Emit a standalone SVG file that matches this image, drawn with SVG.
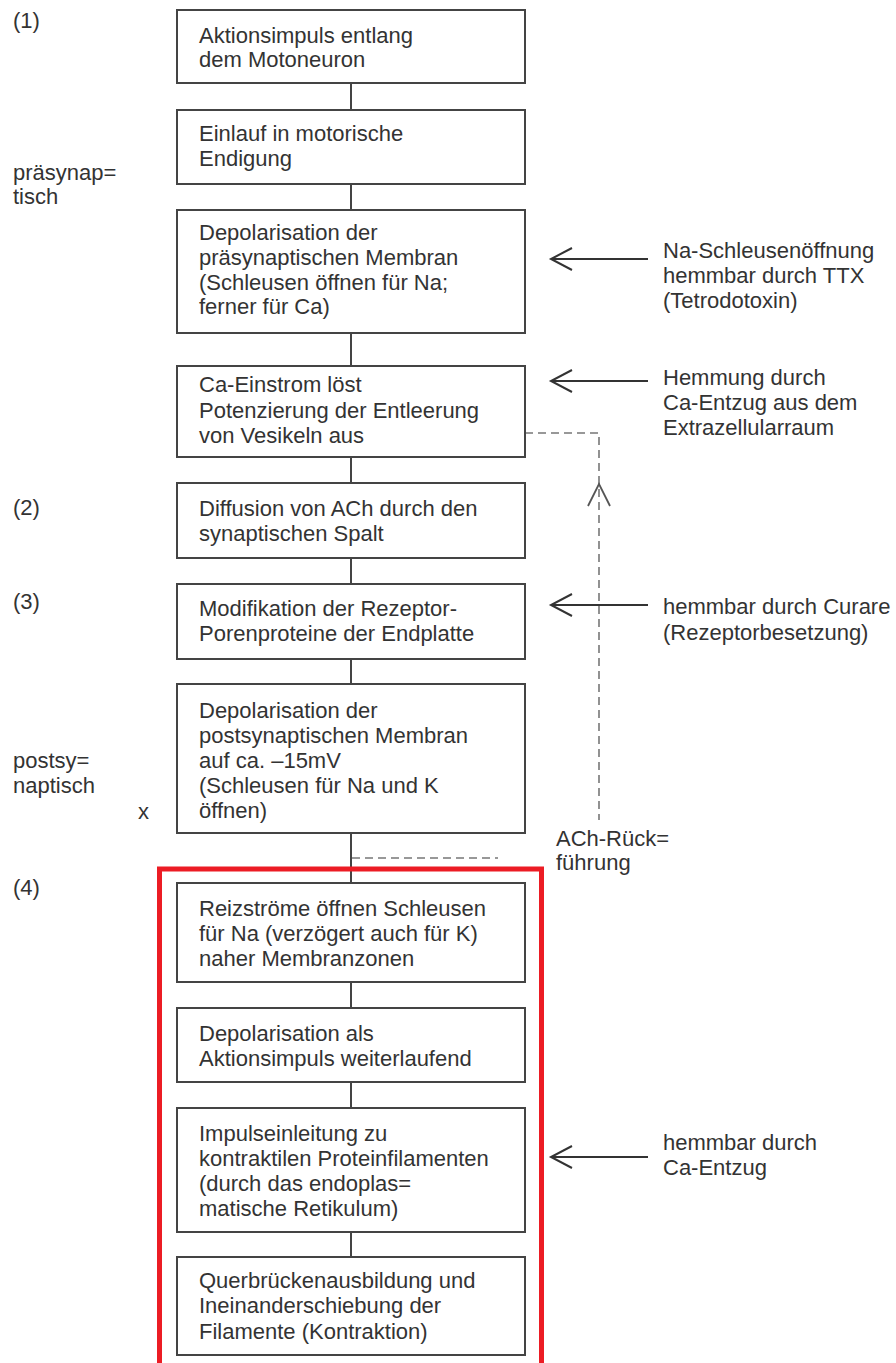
<svg xmlns="http://www.w3.org/2000/svg" width="896" height="1363" viewBox="0 0 896 1363">
<style>
text{font-family:"Liberation Sans",Arial,sans-serif;font-size:22px;fill:#333}
.box{fill:#fff;stroke:#444;stroke-width:2}
.con{stroke:#444;stroke-width:2;fill:none}
.arr{stroke:#333;stroke-width:2;fill:none}
.dash{stroke:#777;stroke-width:1.6;fill:none;stroke-dasharray:8 5}
</style>
<rect width="896" height="1363" fill="#fff"/>
<g id="connectors">
<line class="con" x1="351" y1="83" x2="351" y2="110"/>
<line class="con" x1="351" y1="184" x2="351" y2="210"/>
<line class="con" x1="351" y1="333" x2="351" y2="366"/>
<line class="con" x1="351" y1="457" x2="351" y2="483"/>
<line class="con" x1="351" y1="558" x2="351" y2="584"/>
<line class="con" x1="351" y1="659" x2="351" y2="684"/>
<line class="con" x1="351" y1="833" x2="351" y2="883"/>
<line class="con" x1="351" y1="982" x2="351" y2="1008"/>
<line class="con" x1="351" y1="1082" x2="351" y2="1108"/>
<line class="con" x1="351" y1="1232" x2="351" y2="1257"/>
<line class="arr" x1="648" y1="259" x2="551" y2="259"/>
<polyline class="arr" points="572,248 551,259 572,270"/>
<line class="arr" x1="648" y1="381" x2="551" y2="381"/>
<polyline class="arr" points="572,370 551,381 572,392"/>
<line class="arr" x1="648" y1="605" x2="551" y2="605"/>
<polyline class="arr" points="572,594 551,605 572,616"/>
<line class="arr" x1="648" y1="1157" x2="551" y2="1157"/>
<polyline class="arr" points="572,1146 551,1157 572,1168"/>
<polyline class="dash" points="525,433 599,433 599,820"/>
<polyline class="arr" points="588,506 599,484 610,506" style="stroke:#555;stroke-width:1.8"/>
<line class="dash" x1="352" y1="858" x2="498" y2="858"/>
</g>
<g id="n1"><rect class="box" x="177" y="10" width="348" height="73"/>
<text x="199" y="43">Aktionsimpuls entlang</text><text x="199" y="67">dem Motoneuron</text></g>
<g id="n2"><rect class="box" x="177" y="110" width="348" height="74"/>
<text x="199" y="141">Einlauf in motorische</text><text x="199" y="166">Endigung</text></g>
<g id="n3"><rect class="box" x="177" y="210" width="348" height="123"/>
<text x="199" y="240">Depolarisation der</text><text x="199" y="265">präsynaptischen Membran</text><text x="199" y="290">(Schleusen öffnen für Na;</text><text x="199" y="314">ferner für Ca)</text></g>
<g id="n4"><rect class="box" x="177" y="366" width="348" height="91"/>
<text x="199" y="392">Ca-Einstrom löst</text><text x="199" y="418">Potenzierung der Entleerung</text><text x="199" y="443">von Vesikeln aus</text></g>
<g id="n5"><rect class="box" x="177" y="483" width="348" height="75"/>
<text x="199" y="516">Diffusion von ACh durch den</text><text x="199" y="541">synaptischen Spalt</text></g>
<g id="n6"><rect class="box" x="177" y="584" width="348" height="75"/>
<text x="199" y="616">Modifikation der Rezeptor-</text><text x="199" y="641">Porenproteine der Endplatte</text></g>
<g id="n7"><rect class="box" x="177" y="684" width="348" height="149"/>
<text x="199" y="718">Depolarisation der</text><text x="199" y="743">postsynaptischen Membran</text><text x="199" y="768">auf ca. –15mV</text><text x="199" y="793">(Schleusen für Na und K</text><text x="199" y="818">öffnen)</text></g>
<g id="red"><rect x="159.5" y="869" width="382" height="520" fill="none" stroke="#ec1c24" stroke-width="5"/></g>
<g id="n8"><rect class="box" x="177" y="883" width="348" height="99"/>
<text x="199" y="916">Reizströme öffnen Schleusen</text><text x="199" y="941">für Na (verzögert auch für K)</text><text x="199" y="966">naher Membranzonen</text></g>
<g id="n9"><rect class="box" x="177" y="1008" width="348" height="74"/>
<text x="199" y="1041">Depolarisation als</text><text x="199" y="1066">Aktionsimpuls weiterlaufend</text></g>
<g id="n10"><rect class="box" x="177" y="1108" width="348" height="124"/>
<text x="199" y="1141">Impulseinleitung zu</text><text x="199" y="1166">kontraktilen Proteinfilamenten</text><text x="199" y="1191">(durch das endoplas=</text><text x="199" y="1216">matische Retikulum)</text></g>
<g id="n11"><rect class="box" x="177" y="1257" width="348" height="98"/>
<text x="199" y="1288">Querbrückenausbildung und</text><text x="199" y="1313">Ineinanderschiebung der</text><text x="199" y="1339">Filamente (Kontraktion)</text></g>
<g id="labels">
<text x="13" y="28">(1)</text>
<text x="13" y="180">präsynap=</text><text x="13" y="204">tisch</text>
<text x="13" y="515">(2)</text>
<text x="13" y="609">(3)</text>
<text x="13" y="768">postsy=</text><text x="13" y="793">naptisch</text>
<text x="138" y="819">x</text>
<text x="13" y="895">(4)</text>
<text x="663" y="258">Na-Schleusenöffnung</text><text x="663" y="283">hemmbar durch TTX</text><text x="663" y="308">(Tetrodotoxin)</text>
<text x="663" y="385">Hemmung durch</text><text x="663" y="410">Ca-Entzug aus dem</text><text x="663" y="435">Extrazellularraum</text>
<text x="663" y="614">hemmbar durch Curare</text><text x="663" y="640">(Rezeptorbesetzung)</text>
<text x="663" y="1150">hemmbar durch</text><text x="663" y="1175">Ca-Entzug</text>
<text x="556" y="846">ACh-Rück=</text><text x="556" y="870">führung</text>
</g>
</svg>
